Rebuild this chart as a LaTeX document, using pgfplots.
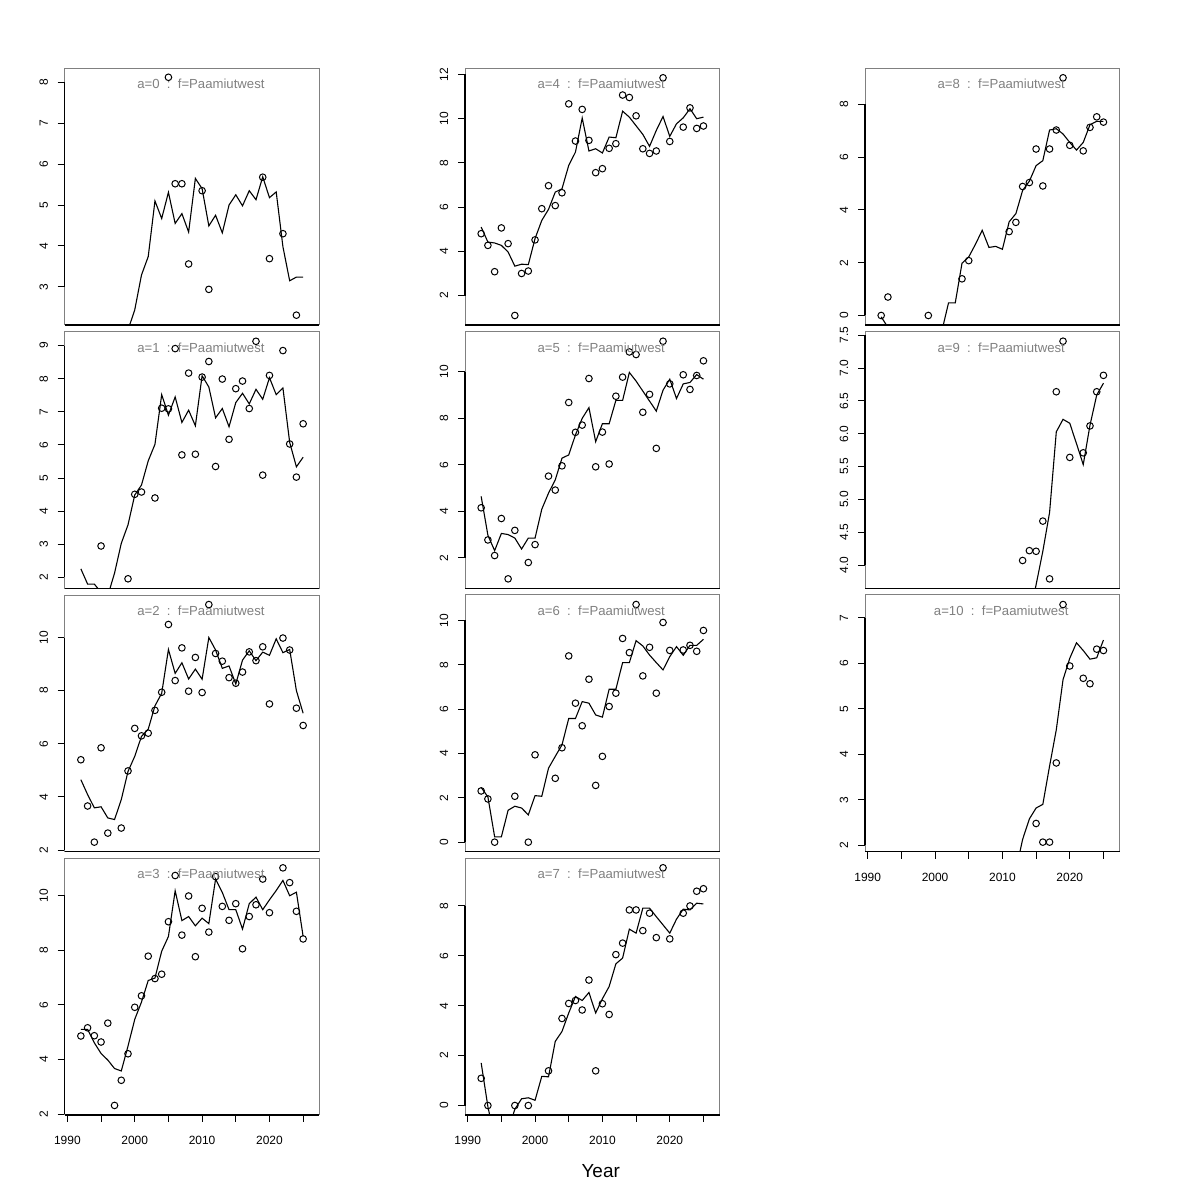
\documentclass[border=0pt]{standalone}
\usepackage{fontspec}
\setmainfont{Liberation Sans}
\usepackage{pgfplots}
\pgfplotsset{compat=1.18}

\pgfplotsset{
  panel/.style={
    scale only axis, width=127.3bp, height=128.35bp,
    xmin=1989.6, xmax=2027.4,
    axis line style={draw=black!50, line width=0.5bp},
    tick align=outside, ytick pos=left, xtick pos=bottom,
    major tick length=3.5bp,
    tick style={black, line width=0.5bp},
    xtick=\empty,
    % rotated labels: yshift moves them left
    yticklabel style={rotate=90, anchor=south, inner sep=0pt,
      font=\fontsize{6}{6}\selectfont, yshift=4.7bp},
    /pgf/number format/assume math mode=true,
    clip mode=individual,
  },
  bottompanel/.style={
    xtick={1990,1995,...,2025},
    xticklabels={1990,,2000,,2010,,2020,},
    xticklabel style={anchor=north, inner sep=0pt,
      font=\fontsize{6}{6}\selectfont, yshift=-6.8bp},
  },
  fit/.style={black, line width=0.55bp, no marks},
  obs/.style={only marks, mark=o, mark size=1.65bp,
    mark options={black, line width=0.5bp}},
}
% title and black axis lines (first to last tick, bottom edge)
\newcommand{\ptitle}[1]{\node[text=black!50, inner sep=0pt,
  font=\fontsize{6.6}{7}\selectfont] at (rel axis cs:0.535,0.939)
  {a=#1\ \ :\ \ f=Paamiutwest};}
\newcommand{\axlines}[2]{%
  \draw[black, line width=0.55bp] (axis cs:1989.6,#1) -- (axis cs:1989.6,#2);
  \draw[black, line width=0.55bp] (rel axis cs:0,0) -- (rel axis cs:1,0);}

\begin{document}
\begin{tikzpicture}
\useasboundingbox (0,0) rectangle (600bp,600bp);

% ---------- column 1 ----------
\begin{axis}[panel, at={(32.35bp,437.5bp)}, anchor=south west,
  ymin=2.07, ymax=8.34, ytick={3,4,...,8}]
  \addplot[fit] coordinates {(1998,1.5)(1999,1.95)(2000,2.44)(2001,3.29)(2002,3.74)(2003,5.10)(2004,4.67)(2005,5.31)(2006,4.55)(2007,4.79)(2008,4.34)(2009,5.65)(2010,5.40)(2011,4.49)(2012,4.75)(2013,4.32)(2014,5.00)(2015,5.25)(2016,4.98)(2017,5.35)(2018,5.13)(2019,5.69)(2020,5.18)(2021,5.32)(2022,3.98)(2023,3.15)(2024,3.24)(2025,3.24)};
  \addplot[obs] coordinates {(2005,8.12)(2006,5.52)(2007,5.52)(2008,3.56)(2010,5.35)(2011,2.94)(2019,5.68)(2020,3.69)(2022,4.30)(2024,2.31)};
  \ptitle{0}
  \axlines{3}{8}
\end{axis}

\begin{axis}[panel, at={(32.35bp,305.8bp)}, anchor=south west,
  ymin=1.67, ymax=9.42, ytick={2,3,...,9}]
  \addplot[fit] coordinates {(1992,2.26)(1993,1.80)(1994,1.80)(1995,1.55)(1996,1.45)(1997,2.13)(1998,3.03)(1999,3.59)(2000,4.49)(2001,4.79)(2002,5.52)(2003,6.02)(2004,7.52)(2005,6.90)(2006,7.45)(2007,6.68)(2008,7.05)(2009,6.58)(2010,8.09)(2011,7.75)(2012,6.82)(2013,7.10)(2014,6.55)(2015,7.28)(2016,7.56)(2017,7.24)(2018,7.68)(2019,7.38)(2020,8.03)(2021,7.52)(2022,7.72)(2023,6.08)(2024,5.34)(2025,5.63)};
  \addplot[obs] coordinates {(1995,2.95)(1999,1.96)(2000,4.51)(2001,4.58)(2003,4.40)(2004,7.11)(2005,7.09)(2006,8.91)(2007,5.70)(2008,8.17)(2009,5.72)(2010,8.05)(2011,8.52)(2012,5.35)(2013,7.99)(2014,6.17)(2015,7.70)(2016,7.93)(2017,7.10)(2018,9.13)(2019,5.09)(2020,8.10)(2022,8.85)(2023,6.03)(2024,5.03)(2025,6.64)};
  \ptitle{1}
  \axlines{2}{9}
\end{axis}

\begin{axis}[panel, at={(32.35bp,174.15bp)}, anchor=south west,
  ymin=1.94, ymax=11.60, ytick={2,4,...,10}]
  \addplot[fit] coordinates {(1992,4.65)(1993,4.09)(1994,3.59)(1995,3.63)(1996,3.21)(1997,3.15)(1998,3.90)(1999,4.96)(2000,5.53)(2001,6.28)(2002,6.55)(2003,7.43)(2004,7.90)(2005,9.55)(2006,8.65)(2007,9.05)(2008,8.44)(2009,8.81)(2010,8.43)(2011,10.0)(2012,9.53)(2013,8.84)(2014,8.93)(2015,8.25)(2016,9.15)(2017,9.50)(2018,9.13)(2019,9.45)(2020,9.33)(2021,9.95)(2022,9.43)(2023,9.55)(2024,8.0)(2025,7.15)};
  \addplot[obs] coordinates {(1992,5.40)(1993,3.66)(1994,2.30)(1995,5.85)(1996,2.64)(1998,2.83)(1999,4.98)(2000,6.58)(2001,6.30)(2002,6.40)(2003,7.26)(2004,7.94)(2005,10.49)(2006,8.38)(2007,9.61)(2008,7.98)(2009,9.25)(2010,7.93)(2011,11.24)(2012,9.40)(2013,9.11)(2014,8.49)(2015,8.28)(2016,8.70)(2017,9.46)(2018,9.13)(2019,9.65)(2020,7.50)(2022,9.98)(2023,9.53)(2024,7.34)(2025,6.69)};
  \ptitle{2}
  \axlines{2}{10}
\end{axis}

\begin{axis}[panel, bottompanel, at={(32.35bp,42.5bp)}, anchor=south west,
  ymin=1.97, ymax=11.36, ytick={2,4,...,10}]
  \addplot[fit] coordinates {(1992,5.10)(1993,5.10)(1994,4.61)(1995,4.22)(1996,3.98)(1997,3.67)(1998,3.58)(1999,4.49)(2000,5.47)(2001,6.10)(2002,6.89)(2003,6.98)(2004,7.96)(2005,8.50)(2006,10.17)(2007,9.08)(2008,9.23)(2009,8.89)(2010,9.17)(2011,8.97)(2012,10.60)(2013,10.11)(2014,9.48)(2015,9.48)(2016,8.77)(2017,9.70)(2018,9.94)(2019,9.48)(2020,9.84)(2021,10.18)(2022,10.55)(2023,9.99)(2024,10.12)(2025,8.50)};
  \addplot[obs] coordinates {(1992,4.86)(1993,5.16)(1994,4.87)(1995,4.64)(1996,5.33)(1997,2.32)(1998,3.24)(1999,4.21)(2000,5.91)(2001,6.33)(2002,7.78)(2003,6.96)(2004,7.12)(2005,9.04)(2006,10.73)(2007,8.55)(2008,9.98)(2009,7.76)(2010,9.53)(2011,8.66)(2012,10.69)(2013,9.60)(2014,9.09)(2015,9.70)(2016,8.05)(2017,9.23)(2018,9.66)(2019,10.60)(2020,9.37)(2022,11.01)(2023,10.47)(2024,9.42)(2025,8.41)};
  \ptitle{3}
  \axlines{2}{10}
\end{axis}

% ---------- column 2 ----------
\begin{axis}[panel, at={(232.5bp,437.5bp)}, anchor=south west,
  ymin=0.67, ymax=12.28, ytick={2,4,...,12}]
  \addplot[fit] coordinates {(1992,5.10)(1993,4.42)(1994,4.38)(1995,4.27)(1996,3.97)(1997,3.33)(1998,3.42)(1999,3.40)(2000,4.58)(2001,5.40)(2002,5.90)(2003,6.68)(2004,6.83)(2005,7.89)(2006,8.49)(2007,10.03)(2008,8.54)(2009,8.64)(2010,8.45)(2011,9.17)(2012,9.14)(2013,10.34)(2014,10.07)(2015,9.68)(2016,9.29)(2017,8.75)(2018,9.47)(2019,10.10)(2020,9.20)(2021,9.77)(2022,10.04)(2023,10.45)(2024,10.00)(2025,10.07)};
  \addplot[obs] coordinates {(1992,4.80)(1993,4.27)(1994,3.08)(1995,5.06)(1996,4.35)(1997,1.10)(1998,3.00)(1999,3.11)(2000,4.52)(2001,5.93)(2002,6.97)(2003,6.07)(2004,6.65)(2005,10.67)(2006,8.99)(2007,10.42)(2008,9.02)(2009,7.56)(2010,7.74)(2011,8.66)(2012,8.87)(2013,11.07)(2014,10.96)(2015,10.13)(2016,8.64)(2017,8.43)(2018,8.54)(2019,11.85)(2020,8.97)(2022,9.62)(2023,10.49)(2024,9.56)(2025,9.67)};
  \ptitle{4}
  \axlines{2}{12}
\end{axis}

\begin{axis}[panel, at={(232.5bp,305.8bp)}, anchor=south west,
  ymin=0.69, ymax=11.71, ytick={2,4,...,10}]
  \addplot[fit] coordinates {(1992,4.64)(1993,2.97)(1994,2.31)(1995,3.05)(1996,3.00)(1997,2.85)(1998,2.38)(1999,2.85)(2000,2.85)(2001,4.09)(2002,4.78)(2003,5.35)(2004,6.28)(2005,6.42)(2006,7.28)(2007,7.99)(2008,8.45)(2009,6.99)(2010,7.76)(2011,7.76)(2012,8.76)(2013,8.76)(2014,9.96)(2015,9.59)(2016,9.16)(2017,8.73)(2018,8.30)(2019,9.20)(2020,9.67)(2021,8.84)(2022,9.47)(2023,9.53)(2024,9.87)(2025,9.67)};
  \addplot[obs] coordinates {(1992,4.15)(1993,2.77)(1994,2.10)(1995,3.69)(1996,1.10)(1997,3.18)(1999,1.80)(2000,2.57)(2002,5.51)(2003,4.91)(2004,5.95)(2005,8.67)(2006,7.39)(2007,7.70)(2008,9.70)(2009,5.91)(2010,7.40)(2011,6.03)(2012,8.94)(2013,9.76)(2014,10.84)(2015,10.73)(2016,8.25)(2017,9.02)(2018,6.70)(2019,11.30)(2020,9.47)(2022,9.86)(2023,9.23)(2024,9.83)(2025,10.46)};
  \ptitle{5}
  \axlines{2}{10}
\end{axis}

\begin{axis}[panel, at={(232.5bp,174.15bp)}, anchor=south west,
  ymin=-0.43, ymax=11.15, ytick={0,2,...,10}]
  \addplot[fit] coordinates {(1992,2.47)(1993,2.04)(1994,0.24)(1995,0.24)(1996,1.44)(1997,1.62)(1998,1.54)(1999,1.23)(2000,2.10)(2001,2.07)(2002,3.34)(2003,3.87)(2004,4.39)(2005,5.58)(2006,5.58)(2007,6.34)(2008,6.27)(2009,5.74)(2010,5.64)(2011,6.90)(2012,6.90)(2013,8.10)(2014,8.10)(2015,9.09)(2016,8.85)(2017,8.44)(2018,8.10)(2019,7.77)(2020,8.37)(2021,8.82)(2022,8.43)(2023,8.88)(2024,8.88)(2025,9.15)};
  \addplot[obs] coordinates {(1992,2.31)(1993,1.95)(1994,0)(1997,2.07)(1999,0)(2000,3.94)(2003,2.88)(2004,4.26)(2005,8.40)(2006,6.27)(2007,5.25)(2008,7.35)(2009,2.56)(2010,3.87)(2011,6.12)(2012,6.72)(2013,9.19)(2014,8.55)(2015,10.72)(2016,7.50)(2017,8.79)(2018,6.72)(2019,9.91)(2020,8.65)(2022,8.67)(2023,8.88)(2024,8.61)(2025,9.55)};
  \ptitle{6}
  \axlines{0}{10}
\end{axis}

\begin{axis}[panel, bottompanel, at={(232.5bp,42.5bp)}, anchor=south west,
  ymin=-0.38, ymax=9.91, ytick={0,2,...,8}]
  \addplot[fit] coordinates {(1992,1.71)(1993,-0.05)(1994,-1.3)(1995,-1.3)(1996,-1.0)(1997,-0.15)(1998,0.27)(1999,0.31)(2000,0.21)(2001,1.17)(2002,1.15)(2003,2.57)(2004,2.97)(2005,3.71)(2006,4.37)(2007,4.21)(2008,4.53)(2009,3.71)(2010,4.28)(2011,4.77)(2012,5.68)(2013,5.91)(2014,7.07)(2015,6.91)(2016,7.91)(2017,7.91)(2018,7.57)(2019,7.24)(2020,6.91)(2021,7.47)(2022,7.87)(2023,7.84)(2024,8.11)(2025,8.08)};
  \addplot[obs] coordinates {(1992,1.09)(1993,0)(1997,0)(1999,0)(2002,1.39)(2004,3.49)(2005,4.09)(2006,4.21)(2007,3.83)(2008,5.03)(2009,1.39)(2010,4.08)(2011,3.65)(2012,6.05)(2013,6.51)(2014,7.84)(2015,7.84)(2016,7.01)(2017,7.71)(2018,6.73)(2019,9.53)(2020,6.68)(2022,7.71)(2023,8.00)(2024,8.59)(2025,8.69)};
  \ptitle{7}
  \axlines{0}{8}
\end{axis}

% ---------- column 3 ----------
\begin{axis}[panel, at={(432.5bp,437.5bp)}, anchor=south west,
  ymin=-0.36, ymax=9.37, ytick={0,2,...,8}]
  \addplot[fit] coordinates {(1992,-0.05)(1993,-0.45)(1994,-1.0)(1995,-1.0)(1996,-1.0)(1997,-1.0)(1998,-1.0)(1999,-1.0)(2000,-1.0)(2001,-0.6)(2002,0.48)(2003,0.48)(2004,1.98)(2005,2.22)(2006,2.70)(2007,3.23)(2008,2.58)(2009,2.62)(2010,2.51)(2011,3.55)(2012,3.86)(2013,4.74)(2014,5.09)(2015,5.68)(2016,5.87)(2017,7.03)(2018,7.08)(2019,6.88)(2020,6.56)(2021,6.27)(2022,6.56)(2023,7.23)(2024,7.36)(2025,7.36)};
  \addplot[obs] coordinates {(1992,0)(1993,0.70)(1999,0)(2004,1.39)(2005,2.08)(2011,3.18)(2012,3.53)(2013,4.89)(2014,5.04)(2015,6.31)(2016,4.91)(2017,6.31)(2018,7.03)(2019,9.01)(2020,6.45)(2022,6.24)(2023,7.13)(2024,7.53)(2025,7.33)};
  \ptitle{8}
  \axlines{0}{8}
\end{axis}

\begin{axis}[panel, at={(432.5bp,305.8bp)}, anchor=south west,
  ymin=3.645, ymax=7.555, ytick={4,4.5,...,7.5},
  yticklabel style={/pgf/number format/.cd, fixed, fixed zerofill, precision=1}]
  \addplot[fit] coordinates {(2013,2.8)(2014,3.2)(2015,3.70)(2016,4.21)(2017,4.80)(2018,6.03)(2019,6.22)(2020,6.16)(2021,5.85)(2022,5.53)(2023,6.13)(2024,6.59)(2025,6.77)};
  \addplot[obs] coordinates {(2013,4.07)(2014,4.22)(2015,4.21)(2016,4.67)(2017,3.79)(2018,6.64)(2019,7.41)(2020,5.64)(2022,5.71)(2023,6.12)(2024,6.64)(2025,6.89)};
  \ptitle{9}
  \axlines{4}{7.5}
\end{axis}

\begin{axis}[panel, bottompanel, at={(432.5bp,174.15bp)}, anchor=south west,
  ymin=1.86, ymax=7.50, ytick={2,3,...,7}]
  \addplot[fit] coordinates {(2011,1.0)(2012,1.45)(2013,2.13)(2014,2.58)(2015,2.82)(2016,2.90)(2017,3.74)(2018,4.54)(2019,5.64)(2020,6.11)(2021,6.45)(2022,6.28)(2023,6.09)(2024,6.12)(2025,6.51)};
  \addplot[obs] coordinates {(2015,2.48)(2016,2.07)(2017,2.07)(2018,3.81)(2019,7.29)(2020,5.94)(2022,5.67)(2023,5.55)(2024,6.31)(2025,6.28)};
  \ptitle{10}
  \axlines{2}{7}
\end{axis}

\node[font=\fontsize{9.5}{10}\selectfont, inner sep=0pt] at (300.35bp,14.5bp) {Year};
\end{tikzpicture}
\end{document}
